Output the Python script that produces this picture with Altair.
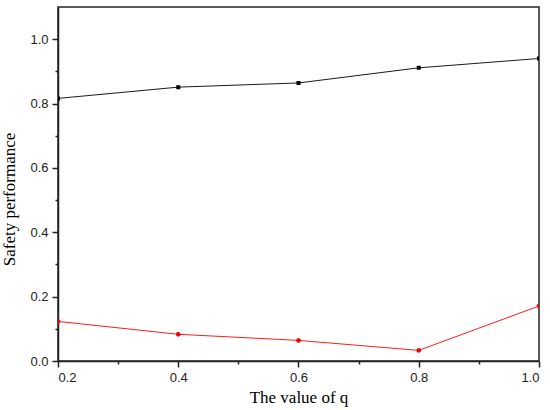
import math
import altair as alt
import pandas as pd

# Values of q and the two measured rates
q_values = [0.2, 0.4, 0.6, 0.8, 1.0]
detection_rate = [0.816, 0.851, 0.864, 0.911, 0.940]
error_rate = [0.123, 0.083, 0.064, 0.033, 0.171]

series_names = ["Detection rate", "Detection error rate"]
series_colors = ["#000000", "#ff0000"]


def disc_path(r, n=24):
    pts = [
        f"{r * math.cos(2 * math.pi * k / n):.4f},{r * math.sin(2 * math.pi * k / n):.4f}"
        for k in range(n)
    ]
    return "M" + "L".join(pts) + "Z"


# Marker paths in the unit -1..1 box: an open horizontal stroke (only visible
# in the legend, where symbols get a stroke) plus a filled square / disc.
marker_paths = [
    "M-1,0L1,0M-0.25,-0.25L0.25,-0.25L0.25,0.25L-0.25,0.25Z",
    "M-1,0L1,0" + disc_path(0.29),
]

x_ticks = [0.2, 0.3, 0.4, 0.5, 0.6, 0.7, 0.8, 0.9, 1.0]
y_ticks = [0.0, 0.1, 0.2, 0.3, 0.4, 0.5, 0.6, 0.7, 0.8, 0.9, 1.0]

df = pd.DataFrame({
    "q": q_values * 2,
    "value": detection_rate + error_rate,
    "series": [name for name in series_names for _ in q_values],
})

major_test = "round(datum.value * 10) % 2 == 0"
tick_len = {"condition": {"test": major_test, "value": 6}, "value": 3}
label_expr = f"{major_test} ? format(datum.value, '.1f') : ''"

x_enc = alt.X(
    "q:Q",
    scale=alt.Scale(domain=[0.2, 1.0], nice=False, zero=False),
    axis=alt.Axis(
        values=x_ticks, labelExpr=label_expr, tickSize=tick_len,
        title="The value of q", titlePadding=5, labelPadding=4,
    ),
)
y_enc = alt.Y(
    "value:Q",
    scale=alt.Scale(domain=[0, 1.1], nice=False),
    axis=alt.Axis(
        values=y_ticks, labelExpr=label_expr, tickSize=tick_len,
        title="Safety performance", titleX=-40, titleY=192, labelPadding=4,
    ),
)

color_scale = alt.Scale(domain=series_names, range=series_colors)

base = alt.Chart(df)

lines = base.mark_line(strokeWidth=0.9, clip=True).encode(
    x=x_enc,
    y=y_enc,
    color=alt.Color("series:N", scale=color_scale, legend=None),
    detail="series:N",
)

legend_def = alt.Legend(
    title=None,
    orient="none",
    legendX=25,
    legendY=7,
    symbolSize=900,
    symbolStrokeWidth=1,
    symbolOpacity=1,
    rowPadding=-1,
    labelOffset=9,
    labelFont="Liberation Serif",
    labelFontSize=17,
    labelColor="#000000",
)

markers = base.mark_point(filled=True, size=256, opacity=1, strokeWidth=0, clip=True).encode(
    x=x_enc,
    y=y_enc,
    fill=alt.Fill("series:N", scale=color_scale, legend=legend_def),
    stroke=alt.Stroke("series:N", scale=color_scale, legend=legend_def),
    shape=alt.Shape(
        "series:N",
        scale=alt.Scale(domain=series_names, range=marker_paths),
        legend=legend_def,
    ),
)

chart = (
    alt.layer(lines, markers)
    .properties(
        width=481,
        height=354,
        autosize=alt.AutoSizeParams(type="none"),
        padding={"left": 58, "top": 7, "right": 11, "bottom": 49},
    )
    .configure_view(stroke="#222222", strokeWidth=1.5)
    .configure_axis(
        grid=False,
        domainColor="#222222",
        domainWidth=1.5,
        tickColor="#222222",
        tickWidth=1.5,
        labelFont="Liberation Sans",
        labelFontSize=13,
        labelColor="#222222",
        titleFont="Liberation Serif",
        titleFontSize=17,
        titleFontWeight="normal",
        titleColor="#000000",
    )
)

chart.save("out.html", embed_options={"renderer": "svg", "actions": False})
